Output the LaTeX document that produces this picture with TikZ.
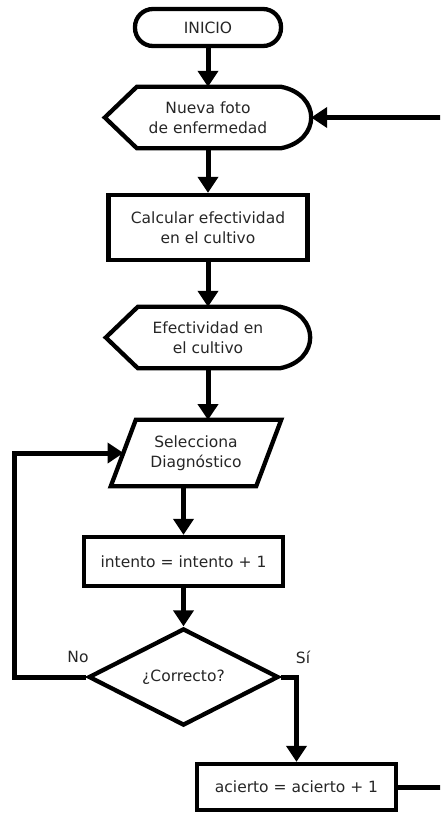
\documentclass[tikz,border=0pt]{standalone}
\usepackage{fontspec}
\setmainfont{DejaVu Sans}
\usetikzlibrary{arrows.meta,shapes.geometric}
\begin{document}
\begin{tikzpicture}[x=1pt,y=-1pt,
  txt/.style={font=\fontsize{15.5}{19.5}\selectfont, text=black!85, align=center, inner sep=0pt},
  shp/.style={line width=4.3pt, line join=miter},
  boxn/.style={txt, draw, line width=4.3pt, rectangle},
  arr/.style={line width=5pt, -{Triangle[width=20pt,length=16pt]}},
  ln/.style={line width=5pt, line join=miter}]
\useasboundingbox (0,0) rectangle (440,817);
\clip (0,0) rectangle (440,817);
% nodes
\node[boxn, rounded corners=18pt, minimum width=146, minimum height=37] (n1) at (208,27.5) {INICIO};
\node[txt, minimum width=206, minimum height=61] (n2) at (208,117.5) {Nueva foto\\de enfermedad};
\node[boxn, minimum width=199, minimum height=65] (n3) at (208,227.5) {Calcular efectividad\\en el cultivo};
\node[txt, minimum width=204, minimum height=61] (n4) at (208,337.5) {Efectividad en\\el cultivo};
\node[txt, minimum width=170, minimum height=66] (p) at (196,453) {Selecciona\\Diagnóstico};
\coordinate (ptop) at (208.5,420);
\coordinate (pbot) at (183.5,486);
\coordinate (pleft) at (123.5,453);
\node[boxn, minimum width=199, minimum height=49] (n6) at (183.5,561.5) {intento = intento + 1};
\node[txt, draw, shape=diamond, line width=4.3pt, minimum width=190, minimum height=93] (d) at (183.5,677) {¿Correcto?};
\node[boxn, minimum width=199, minimum height=46] (n7) at (296.5,787) {acierto = acierto + 1};
\node[txt] (no) at (78,657) {No};
\node[txt] (si) at (303,657) {Sí};
% custom shapes
\draw[shp] (n2.west) -- ([xshift=32pt]n2.north west) -- ([xshift=-30pt]n2.north east)
  .. controls ([xshift=10pt,yshift=-8pt]n2.north east) and ([xshift=10pt,yshift=8pt]n2.south east) ..
  ([xshift=-30pt]n2.south east) -- ([xshift=32pt]n2.south west) -- cycle;
\draw[shp] (n4.west) -- ([xshift=32pt]n4.north west) -- ([xshift=-30pt]n4.north east)
  .. controls ([xshift=10pt,yshift=-8pt]n4.north east) and ([xshift=10pt,yshift=8pt]n4.south east) ..
  ([xshift=-30pt]n4.south east) -- ([xshift=32pt]n4.south west) -- cycle;
\draw[shp] ([xshift=25pt]p.north west) -- (p.north east) -- ([xshift=-25pt]p.south east) -- (p.south west) -- cycle;
% connectors
\draw[arr] (n1.south) -- (n2.north);
\draw[arr] (n2.south) -- (n3.north);
\draw[arr] (n3.south) -- (n4.north);
\draw[arr] (n4.south) -- (n4.south |- ptop);
\draw[arr] (pbot) -- (n6.north);
\draw[arr] (n6.south) -- (d.north);
\draw[arr] (d.west) -- (14,677) |- (pleft);
\draw[arr] (d.east) -| (n7.north);
\draw[arr] (n7.east) -- (444,787) |- (n2.east);
\end{tikzpicture}
\end{document}
